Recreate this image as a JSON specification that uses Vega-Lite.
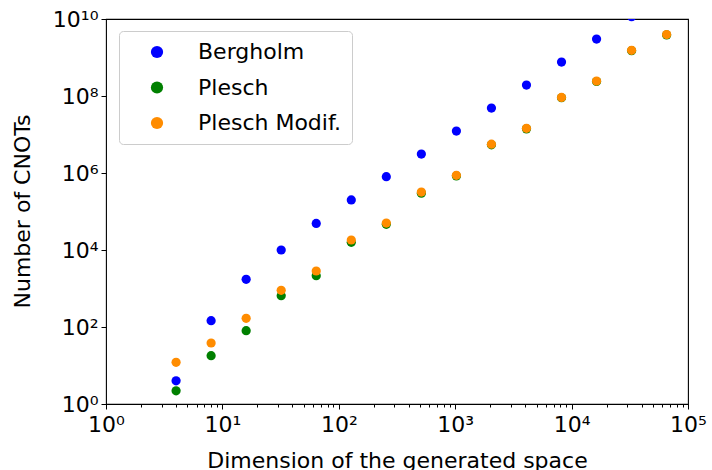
{
  "$schema": "https://vega.github.io/schema/vega-lite/v6.json",
  "autosize": {"type": "none"},
  "padding": {"left": 106, "top": 19, "right": 24, "bottom": 66},
  "width": 582,
  "height": 385,
  "background": "white",
  "config": {
    "font": "DejaVu Sans",
    "view": {"stroke": "black", "strokeWidth": 1.1},
    "axis": {
      "labelFont": "DejaVu Sans",
      "titleFont": "DejaVu Sans",
      "labelColor": "black",
      "titleColor": "black",
      "tickColor": "black",
      "domainColor": "black",
      "titleFontWeight": "normal",
      "grid": false
    }
  },
  "data": {
    "values": [
      {"dim": 4, "cnots": 4, "method": "Bergholm"},
      {"dim": 8, "cnots": 146, "method": "Bergholm"},
      {"dim": 16, "cnots": 1730, "method": "Bergholm"},
      {"dim": 32, "cnots": 10000, "method": "Bergholm"},
      {"dim": 64, "cnots": 49000, "method": "Bergholm"},
      {"dim": 128, "cnots": 200000, "method": "Bergholm"},
      {"dim": 256, "cnots": 800000, "method": "Bergholm"},
      {"dim": 512, "cnots": 3100000, "method": "Bergholm"},
      {"dim": 1024, "cnots": 12300000, "method": "Bergholm"},
      {"dim": 2048, "cnots": 48500000, "method": "Bergholm"},
      {"dim": 4096, "cnots": 192000000, "method": "Bergholm"},
      {"dim": 8192, "cnots": 760000000, "method": "Bergholm"},
      {"dim": 16384, "cnots": 3020000000, "method": "Bergholm"},
      {"dim": 32768, "cnots": 11500000000, "method": "Bergholm"},
      {"dim": 4, "cnots": 2.2, "method": "Plesch"},
      {"dim": 8, "cnots": 18, "method": "Plesch"},
      {"dim": 16, "cnots": 80, "method": "Plesch"},
      {"dim": 32, "cnots": 650, "method": "Plesch"},
      {"dim": 64, "cnots": 2150, "method": "Plesch"},
      {"dim": 128, "cnots": 15800, "method": "Plesch"},
      {"dim": 256, "cnots": 46500, "method": "Plesch"},
      {"dim": 512, "cnots": 300000, "method": "Plesch"},
      {"dim": 1024, "cnots": 840000, "method": "Plesch"},
      {"dim": 2048, "cnots": 5400000, "method": "Plesch"},
      {"dim": 4096, "cnots": 14000000, "method": "Plesch"},
      {"dim": 8192, "cnots": 90000000, "method": "Plesch"},
      {"dim": 16384, "cnots": 238000000, "method": "Plesch"},
      {"dim": 32768, "cnots": 1500000000, "method": "Plesch"},
      {"dim": 65536, "cnots": 3850000000, "method": "Plesch"},
      {"dim": 4, "cnots": 12.1, "method": "Plesch Modif."},
      {"dim": 8, "cnots": 38.4, "method": "Plesch Modif."},
      {"dim": 16, "cnots": 168, "method": "Plesch Modif."},
      {"dim": 32, "cnots": 896, "method": "Plesch Modif."},
      {"dim": 64, "cnots": 2850, "method": "Plesch Modif."},
      {"dim": 128, "cnots": 18200, "method": "Plesch Modif."},
      {"dim": 256, "cnots": 50000, "method": "Plesch Modif."},
      {"dim": 512, "cnots": 320000, "method": "Plesch Modif."},
      {"dim": 1024, "cnots": 870000, "method": "Plesch Modif."},
      {"dim": 2048, "cnots": 5600000, "method": "Plesch Modif."},
      {"dim": 4096, "cnots": 14500000, "method": "Plesch Modif."},
      {"dim": 8192, "cnots": 92000000, "method": "Plesch Modif."},
      {"dim": 16384, "cnots": 245000000, "method": "Plesch Modif."},
      {"dim": 32768, "cnots": 1540000000, "method": "Plesch Modif."},
      {"dim": 65536, "cnots": 3950000000, "method": "Plesch Modif."}
    ]
  },
  "mark": {"type": "point", "filled": true, "opacity": 1, "size": 85, "shape": "circle", "clip": true},
  "encoding": {
    "x": {
      "field": "dim",
      "type": "quantitative",
      "scale": {"type": "log", "domain": [1, 100000], "nice": false},
      "axis": {
        "title": "Dimension of the generated space",
        "titleFontSize": 22,
        "titleY": 63,
        "titleBaseline": "alphabetic",
        "labelFontSize": 22,
        "labelPadding": 5,
        "labelFlush": false,
        "labelOverlap": false,
        "labelBound": false,
        "domain": false,
        "tickWidth": 1,
        "tickSize": {"condition": {"test": "abs(log(datum.value)/LN10 - round(log(datum.value)/LN10)) < 0.000001", "value": 5}, "value": 3},
        "values": [1,2,3,4,5,6,7,8,9,10,20,30,40,50,60,70,80,90,100,200,300,400,500,600,700,800,900,1000,2000,3000,4000,5000,6000,7000,8000,9000,10000,20000,30000,40000,50000,60000,70000,80000,90000,100000],
        "labelExpr": "abs(log(datum.value)/LN10 - round(log(datum.value)/LN10)) < 0.000001 ? '10' + ['⁰','¹','²','³','⁴','⁵','⁶','⁷','⁸','⁹','¹⁰'][round(log(datum.value)/LN10)] : ''"
      }
    },
    "y": {
      "field": "cnots",
      "type": "quantitative",
      "scale": {"type": "log", "domain": [1, 10000000000], "nice": false},
      "axis": {
        "title": "Number of CNOTs",
        "titleFontSize": 22,
        "titleX": -84,
        "titleY": 192,
        "titleBaseline": "middle",
        "titleAngle": -90,
        "labelFontSize": 22,
        "labelPadding": 3,
        "labelFlush": false,
        "labelOverlap": false,
        "labelBound": false,
        "domain": false,
        "tickWidth": 1,
        "tickSize": 5,
        "values": [1, 100, 10000, 1000000, 100000000, 10000000000],
        "labelExpr": "'10' + ['⁰','¹','²','³','⁴','⁵','⁶','⁷','⁸','⁹','¹⁰'][round(log(datum.value)/LN10)]"
      }
    },
    "color": {
      "field": "method",
      "type": "nominal",
      "scale": {"domain": ["Bergholm", "Plesch", "Plesch Modif."], "range": ["#0000ff", "#008000", "#ff8c00"]},
      "legend": {
        "title": null,
        "orient": "none",
        "legendX": 13,
        "legendY": 12,
        "padding": 10,
        "symbolType": "circle",
        "symbolSize": 150,
        "symbolStrokeWidth": 0,
        "symbolOffset": 17,
        "labelOffset": 30,
        "labelFontSize": 22,
        "labelFont": "DejaVu Sans",
        "labelColor": "black",
        "labelExpr": "datum.label + '\u00a0\u00a0'",
        "rowPadding": 13.5,
        "strokeColor": "#cccccc",
        "fillColor": "rgba(255,255,255,0.8)",
        "cornerRadius": 4
      }
    }
  }
}
